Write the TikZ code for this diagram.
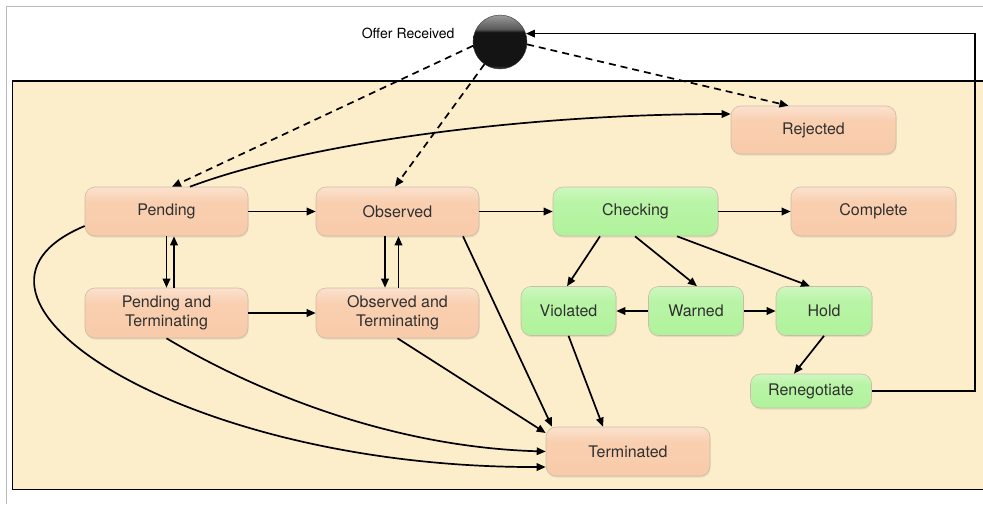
\documentclass[tikz,border=0pt]{standalone}
\usepackage{fontspec}
\setmainfont{TeX Gyre Heros}
\usetikzlibrary{arrows.meta,shadows}

\definecolor{sand}{HTML}{FDEECB}
\definecolor{peach}{HTML}{F8C9A6}
\definecolor{mint}{HTML}{ADF297}
\definecolor{boxline}{HTML}{CDBBA8}
\definecolor{labeltext}{HTML}{303030}

% box fills: light rim at top and bottom, solid colour through the middle
\pgfdeclareverticalshading{peachfill}{100bp}{color(0bp)=(peach!35!white); color(12bp)=(peach); color(60bp)=(peach!88!white); color(100bp)=(white)}
\pgfdeclareverticalshading{mintfill}{100bp}{color(0bp)=(mint!40!white); color(12bp)=(mint); color(60bp)=(mint!85!white); color(100bp)=(mint!20!white)}
% glossy black initial-state orb
\pgfdeclareverticalshading{orbfill}{54bp}{color(0bp)=(black!55); color(5bp)=(black!92); color(36bp)=(black!92); color(39bp)=(black!65); color(54bp)=(black!35)}

\begin{document}
\begin{tikzpicture}[x=1pt,y=-1pt,
  state/.style={rectangle, rounded corners=10pt, draw=boxline, line width=0.6pt,
    text=labeltext, font=\fontsize{16}{19}\selectfont, align=center, inner sep=0pt,
    drop shadow={opacity=0.18, shadow xshift=0.6pt, shadow yshift=-1.6pt}},
  peachstate/.style={state, shading=peachfill},
  mintstate/.style={state, shading=mintfill},
  flow/.style={line width=1.7pt, -{Triangle[length=9pt,width=7.5pt]}},
  optional/.style={flow, dash pattern=on 7pt off 5pt}]

\useasboundingbox (0,0) rectangle (983,504);
\clip (0,0) rectangle (983,504);
\fill[white] (0,0) rectangle (983,504);

% frame and lifecycle area
\draw[gray!55, line width=0.8pt] (6.5,504) -- (6.5,6.5) -- (983,6.5);
\draw[fill=sand, line width=1.5pt] (12.5,81) rectangle (995,489.5);

% initial state
\node[circle, minimum size=54pt, inner sep=0pt, shading=orbfill, draw=black!80, line width=0.4pt] (start) at (500,42) {};
\node[anchor=east, font=\fontsize{14}{16}\selectfont] (startlabel) at (458,33) {Offer Received};

% states
\node[peachstate, minimum width=165pt, minimum height=48pt] (rejected) at (813.5,130) {Rejected};
\node[peachstate, minimum width=163pt, minimum height=49pt] (pending) at (166.5,211.5) {Pending};
\node[peachstate, minimum width=163pt, minimum height=49pt] (observed) at (397.5,211.5) {Observed};
\node[mintstate, minimum width=165pt, minimum height=49pt] (checking) at (635.5,211.5) {Checking};
\node[peachstate, minimum width=165pt, minimum height=49pt] (complete) at (873.5,211.5) {Complete};
\node[peachstate, minimum width=163pt, minimum height=50pt] (pendterm) at (166.5,313) {Pending and\\Terminating};
\node[peachstate, minimum width=163pt, minimum height=50pt] (obsterm) at (397.5,313) {Observed and\\Terminating};
\node[mintstate, minimum width=95pt, minimum height=49pt] (violated) at (568.5,311) {Violated};
\node[mintstate, minimum width=95pt, minimum height=49pt] (warned) at (696,311) {Warned};
\node[mintstate, minimum width=96pt, minimum height=49pt] (hold) at (824,311) {Hold};
\node[mintstate, minimum width=121pt, minimum height=34pt] (reneg) at (811,391) {Renegotiate};
\node[peachstate, minimum width=164pt, minimum height=49pt] (terminated) at (628,451.5) {Terminated};

% offers leaving the initial state
\draw[optional] (start.188) -- ([xshift=5.5pt]pending.north);
\draw[optional] (start.235) -- ([xshift=-2.5pt]observed.north);
\draw[optional] (start.355) -- ([xshift=-25pt]rejected.north);

% renegotiation loops back to a new offer
\coordinate (turn) at (975,34);
\draw[flow] (reneg.east) -| (turn) |- (start.18);

% main progression
\draw[flow] ([xshift=23.5pt]pending.north) .. controls +(120,-45) and +(-200,0) .. ([yshift=16pt]rejected.west);
\draw[flow] (pending.east) -- (observed.west);
\draw[flow] (observed.east) -- (checking.west);
\draw[flow] (checking.east) -- (complete.west);
\draw[flow] (pendterm.east) -- (obsterm.west);

% termination requests and withdrawals
\draw[flow] (pending.south) -- (pendterm.north);
\draw[flow] ([xshift=7.5pt]pendterm.north) -- ([xshift=7.5pt]pending.south);
\draw[flow] ([xshift=-12.5pt]observed.south) -- ([xshift=-12.5pt]obsterm.north);
\draw[flow] ([xshift=1pt]obsterm.north) -- ([xshift=1pt]observed.south);

% monitoring outcomes
\draw[flow] ([xshift=-35.5pt]checking.south) -- ([xshift=-1.5pt]violated.north);
\draw[flow] ([xshift=-0.5pt]checking.south) -- ([xshift=1pt]warned.north);
\draw[flow] ([xshift=41.5pt]checking.south) -- ([xshift=-14pt]hold.north);
\draw[flow] (warned.west) -- (violated.east);
\draw[flow] (warned.east) -- (hold.west);
\draw[flow] (hold.south) -- ([xshift=-17pt]reneg.north);

% everything that ends in termination
\draw[flow] (violated.south) -- ([xshift=-25pt]terminated.north);
\draw[flow] ([xshift=65.5pt]observed.south) -- ([xshift=-76pt]terminated.north);
\draw[flow] (obsterm.south) -- ([yshift=18.5pt]terminated.west);
\draw[flow] (pendterm.south) .. controls +(70,42) and +(-170,-5) .. (terminated.west);
\draw[flow] ([yshift=-14.5pt]pending.west) .. controls +(-165,69) and +(-365,1) .. ([yshift=-15.5pt]terminated.west);

\end{tikzpicture}
\end{document}
